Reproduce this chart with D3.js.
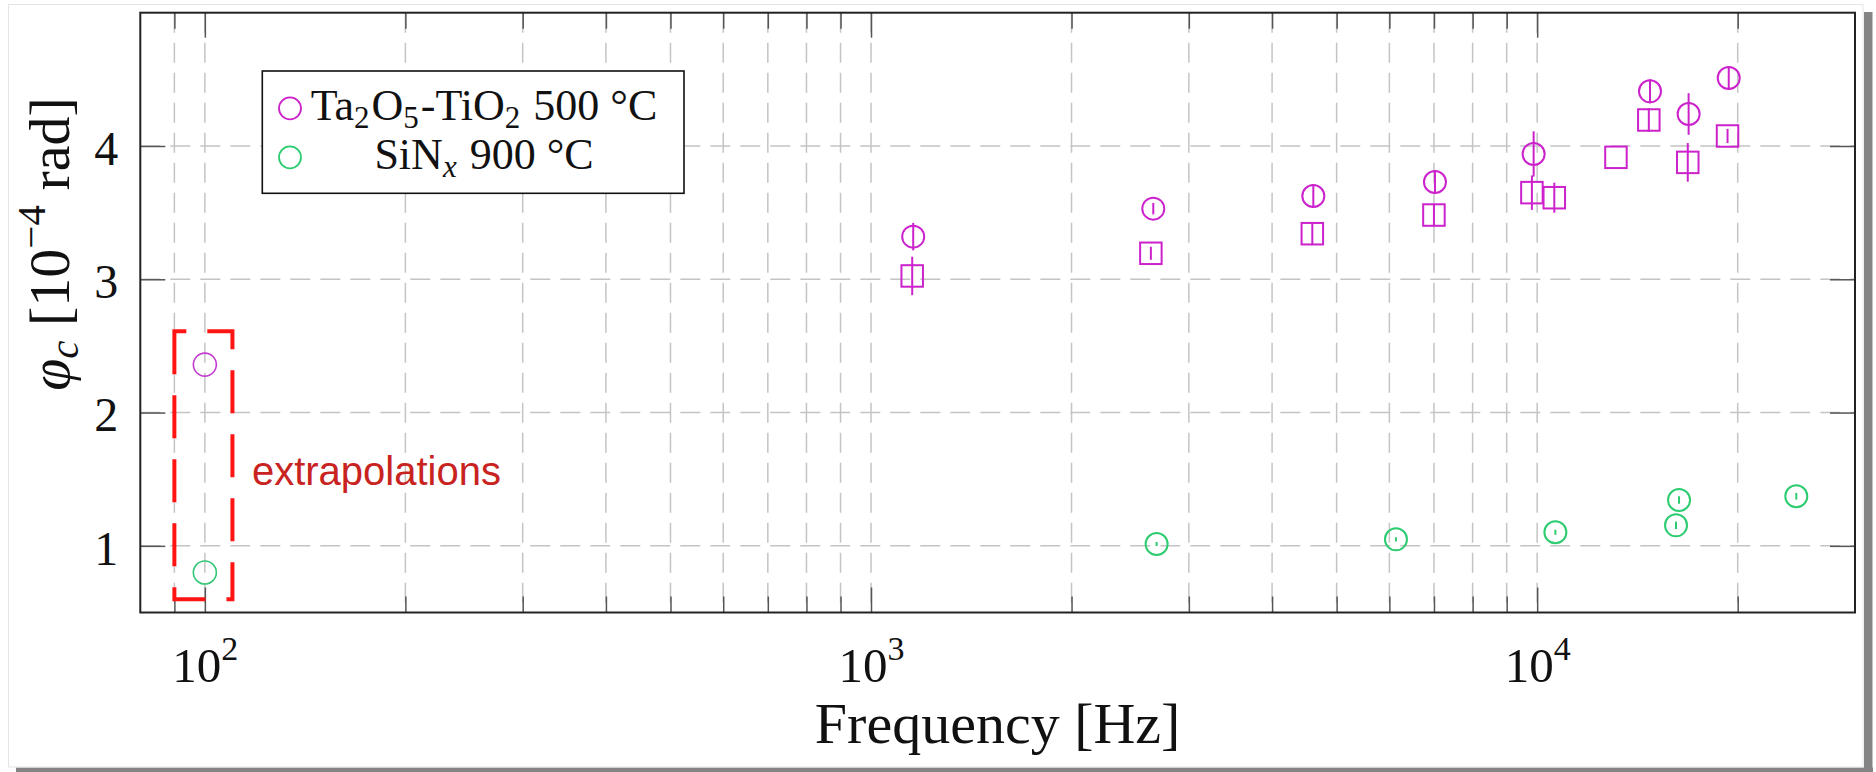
<!DOCTYPE html>
<html>
<head>
<meta charset="utf-8">
<script src="https://cdn.jsdelivr.net/npm/d3@7"></script>
<style>
  html, body { margin: 0; padding: 0; background: #ffffff; }
  svg { display: block; }
  text { font-family: "Liberation Serif", "DejaVu Serif", serif; fill: #111; }
  text.note { font-family: "Liberation Sans", Arial, sans-serif; }
</style>
</head>
<body>
<svg id="chart" width="1876" height="772"></svg>
<script>
// Ta2O5-TiO2 (500 °C) loss angle, circle markers
const freqTaCirc = [1157, 2653, 4613, 7024, 9879, 14770, 16880, 19390];
const phiTaCirc  = [3.32, 3.53, 3.625, 3.73, 3.94, 4.41, 4.24, 4.51];
const errTaCirc  = [0.103, 0.043, 0.085, 0.088, 0.17, 0.09, 0.156, 0.08];

// Ta2O5-TiO2 (500 °C) loss angle, square markers
const freqTaSq = [1153, 2631, 4597, 6999, 9820, 10610, 13130, 14710, 16830, 19310];
const phiTaSq  = [3.025, 3.195, 3.342, 3.482, 3.65, 3.612, 3.915, 4.195, 3.877, 4.075];
const errTaSq  = [0.144, 0.049, 0.086, 0.081, 0.129, 0.113, 0, 0.088, 0.145, 0.053];

// SiNx (900 °C) loss angle
const freqSiN = [2684, 6138, 10650, 16160, 16330, 24490];
const phiSiN  = [1.014, 1.049, 1.102, 1.154, 1.344, 1.372];
const errSiN  = [0.015, 0.016, 0.019, 0.028, 0.028, 0.025];

// extrapolated values at 100 Hz
const freqExtra = [100, 100];
const phiExtra  = [2.36, 0.80];
const seriesExtra = ["ta", "sin"];

// axes
const xDomain = [80, 30000];
const yDomain = [0.5, 5];
const xMajorTicks = [100, 1000, 10000];
const xMajorExp = ["2", "3", "4"];
const yTicks = [1, 2, 3, 4];

// dashed annotation box around the extrapolated points
const boxFreq = [90, 110];
const boxPhi = [0.6, 2.61];

const legendLabels = ["ta", "sin"];

const colTa = "#cc22cc";
const colSiN = "#2ecc71";

const svg = d3.select("#chart");

// page frame with drop shadow
svg.append("rect").attr("x", 16).attr("y", 767.5).attr("width", 1857).attr("height", 5).attr("fill", "#848484");
svg.append("rect").attr("x", 1864).attr("y", 12).attr("width", 8.5).attr("height", 760).attr("fill", "#848484");
svg.append("rect").attr("x", 8.5).attr("y", 4.5).attr("width", 1854.5).attr("height", 762.5)
  .attr("fill", "#ffffff").attr("stroke", "#e4e4e4").attr("stroke-width", 1);

const plotL = 140.3, plotR = 1855, plotT = 12.7, plotB = 612.5;
const x = d3.scaleLog().domain(xDomain).range([plotL, plotR]);
const y = d3.scaleLinear().domain(yDomain).range([plotB, plotT]);

// all decade subdivisions inside the domain
const allX = [];
for (let e = 1; e <= 4; e++) {
  for (let m = 1; m <= 9; m++) {
    const v = m * Math.pow(10, e);
    if (v >= xDomain[0] && v <= xDomain[1]) allX.push(v);
  }
}
const innerX = allX.filter(v => v > xDomain[0] && v < xDomain[1]);
const minorX = innerX.filter(v => !xMajorTicks.includes(v));

// grid
const grid = svg.append("g").attr("stroke", "#c4c4c4").attr("stroke-width", 1.5)
  .attr("stroke-dasharray", "20 10").attr("fill", "none");
grid.selectAll("line.vx").data(innerX).join("line").attr("class", "vx")
  .attr("x1", d => x(d)).attr("x2", d => x(d)).attr("y1", plotT).attr("y2", plotB);
grid.selectAll("line.hy").data(yTicks).join("line").attr("class", "hy")
  .attr("x1", plotL).attr("x2", plotR).attr("y1", d => y(d)).attr("y2", d => y(d));

// inner tick marks on all four sides
function ticks(axisGen, transform) {
  const g = svg.append("g").attr("transform", transform).call(axisGen);
  g.select(".domain").remove();
  g.selectAll("line").attr("stroke", "#555").attr("stroke-width", 1.5);
  g.selectAll("text").remove();
}
ticks(d3.axisTop(x).tickValues(xMajorTicks).tickSize(25).tickFormat(""), `translate(0,${plotB})`);
ticks(d3.axisTop(x).tickValues(minorX).tickSize(16).tickFormat(""), `translate(0,${plotB})`);
ticks(d3.axisBottom(x).tickValues(xMajorTicks).tickSize(25).tickFormat(""), `translate(0,${plotT})`);
ticks(d3.axisBottom(x).tickValues(minorX).tickSize(16).tickFormat(""), `translate(0,${plotT})`);
ticks(d3.axisRight(y).tickValues(yTicks).tickSize(25).tickFormat(""), `translate(${plotL},0)`);
ticks(d3.axisLeft(y).tickValues(yTicks).tickSize(25).tickFormat(""), `translate(${plotR},0)`);

// frame
svg.append("rect").attr("x", plotL).attr("y", plotT).attr("width", plotR - plotL).attr("height", plotB - plotT)
  .attr("fill", "none").attr("stroke", "#222").attr("stroke-width", 2);

// x tick labels: powers of ten
const xLab = svg.append("g").attr("transform", `translate(0,${plotB})`)
  .call(d3.axisBottom(x).tickValues(xMajorTicks).tickSize(0).tickPadding(0).tickFormat(""));
xLab.select(".domain").remove();
xLab.selectAll(".tick text").each(function(d, i) {
  const t = d3.select(this).attr("y", 69).attr("dy", null)
    .attr("font-size", 49).attr("fill", "#111").attr("text-anchor", "middle");
  t.append("tspan").text("10");
  t.append("tspan").attr("font-size", 34).attr("dy", -22).text(xMajorExp[i]);
});

// y tick labels
const yLab = svg.append("g").attr("transform", `translate(${plotL},0)`)
  .call(d3.axisLeft(y).tickValues(yTicks).tickSize(0).tickPadding(22).tickFormat(d3.format("d")));
yLab.select(".domain").remove();
yLab.selectAll(".tick text").attr("font-size", 48).attr("fill", "#111").attr("dy", "0.38em");

// axis titles
svg.append("text").attr("x", (plotL + plotR) / 2).attr("y", 743).attr("text-anchor", "middle")
  .attr("font-size", 58).text("Frequency [Hz]");

const yt = svg.append("text").attr("transform", "translate(69,244) rotate(-90)")
  .attr("text-anchor", "middle").attr("font-size", 58);
yt.append("tspan").attr("font-style", "italic").text("φ");
yt.append("tspan").attr("font-style", "italic").attr("font-size", 41).attr("dy", 9).text("c");
yt.append("tspan").attr("dy", -9).text(" [10");
yt.append("tspan").attr("font-size", 41).attr("dy", -24).text("−4");
yt.append("tspan").attr("dy", 24).text(" rad]");

// error bars
function errorBars(fs, vs, es, col) {
  svg.append("g").attr("stroke", col).attr("stroke-width", 2)
    .selectAll("line").data(fs.map((f, i) => ({f, v: vs[i], e: es[i]})).filter(d => d.e > 0))
    .join("line")
    .attr("x1", d => x(d.f)).attr("x2", d => x(d.f))
    .attr("y1", d => y(d.v - d.e)).attr("y2", d => y(d.v + d.e));
}
errorBars(freqTaSq, phiTaSq, errTaSq, colTa);
errorBars(freqTaCirc, phiTaCirc, errTaCirc, colTa);
errorBars(freqSiN, phiSiN, errSiN, colSiN);

// square markers
const sq = 21.5;
svg.append("g").selectAll("rect").data(freqTaSq.map((f, i) => ({f, v: phiTaSq[i]}))).join("rect")
  .attr("x", d => x(d.f) - sq / 2).attr("y", d => y(d.v) - sq / 2)
  .attr("width", sq).attr("height", sq)
  .attr("fill", "none").attr("stroke", colTa).attr("stroke-width", 2);

// circle markers
function circles(fs, vs, col, sw) {
  svg.append("g").selectAll("circle").data(fs.map((f, i) => ({f, v: vs[i]}))).join("circle")
    .attr("cx", d => x(d.f)).attr("cy", d => y(d.v)).attr("r", 11)
    .attr("fill", "none").attr("stroke", col).attr("stroke-width", sw);
}
circles(freqTaCirc, phiTaCirc, colTa, 2);
circles(freqSiN, phiSiN, colSiN, 2);
svg.append("g").selectAll("circle").data(freqExtra.map((f, i) => ({f, v: phiExtra[i], s: seriesExtra[i]}))).join("circle")
  .attr("cx", d => x(d.f)).attr("cy", d => y(d.v)).attr("r", 11.5)
  .attr("fill", "none").attr("stroke", d => d.s === "ta" ? "#c43ccf" : "#34c777").attr("stroke-width", 1.6);

// dashed box marking the extrapolations
const bx0 = x(boxFreq[0]), bx1 = x(boxFreq[1]), by0 = y(boxPhi[1]), by1 = y(boxPhi[0]);
svg.append("path")
  .attr("d", `M${bx0},${by0} L${bx0},${by1} L${bx1},${by1} L${bx1},${by0} Z`)
  .attr("fill", "none").attr("stroke", "#ff1414").attr("stroke-width", 4)
  .attr("stroke-dasharray", "43 21");
svg.append("text").attr("class", "note").attr("x", bx1 + 19.5).attr("y", 485)
  .attr("font-size", 40).style("fill", "#c8231f").text("extrapolations");

// legend
const lg = svg.append("g");
lg.append("rect").attr("x", 262.3).attr("y", 71).attr("width", 421.7).attr("height", 122.3)
  .attr("fill", "#fff").attr("stroke", "#111").attr("stroke-width", 1.6);
const legendRows = [108.3, 157.3];
lg.selectAll("circle").data(legendLabels).join("circle")
  .attr("cx", 290).attr("cy", (d, i) => legendRows[i]).attr("r", 11)
  .attr("fill", "none").attr("stroke", d => d === "ta" ? colTa : colSiN).attr("stroke-width", 1.8);

const l1 = lg.append("text").attr("x", 484).attr("y", 119.5).attr("text-anchor", "middle").attr("font-size", 44);
[["Ta", 0], ["2", 1], ["O", 0], ["5", 1], ["-TiO", 0], ["2", 1], [" 500 °C", 0]].forEach(([s, sub], i, arr) => {
  const prev = i > 0 ? arr[i - 1][1] : 0;
  const dy = sub && !prev ? 8 : (!sub && prev ? -8 : 0);
  l1.append("tspan").attr("font-size", sub ? 31 : 44).attr("dy", dy)
    .attr("dx", !sub && prev ? 2 : 0).text(s);
});
const l2 = lg.append("text").attr("x", 484).attr("y", 168.5).attr("text-anchor", "middle").attr("font-size", 44);
l2.append("tspan").text("SiN");
l2.append("tspan").attr("font-size", 31).attr("font-style", "italic").attr("dy", 8).text("x");
l2.append("tspan").attr("dy", -8).attr("dx", 2).text(" 900 °C");
</script>
</body>
</html>
